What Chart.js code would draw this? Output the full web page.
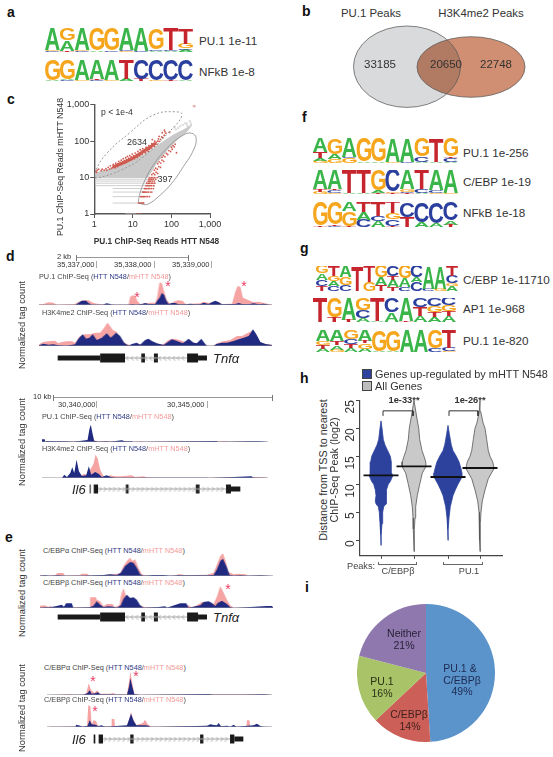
<!DOCTYPE html>
<html><head><meta charset="utf-8">
<script src="https://cdn.jsdelivr.net/npm/chart.js@4"></script>
<style>
html,body{margin:0;padding:0;background:#fff}
#fig{position:relative;width:553px;height:757px;overflow:hidden;background:#fff;font-family:"Liberation Sans",Arial,sans-serif;color:#333;filter:blur(0.3px)}
canvas{position:absolute;display:block}
.t{position:absolute;white-space:nowrap;line-height:1}
.r{position:absolute;background:#555}
</style></head><body><div id="fig"></div>
<script>
// ---------- sequence logos: each position lists letter+height, bottom to top ----------
const logoA1=["C1G1A18","T1A9G10","C1G1A18","A1G19","C1G19","G1C1A18","C1A19","A1C1G17","A1C1T18","A2C1G4T13"];
const logoA2=["A1G19","C1A1G18","G1A19","C1T1A18","G1A19","A2T18","T2C18","G1C19","T1C19","A1C19"];
const logoF1=["G2A2T5A11","G3A4G13","G4C1A15","A1G19","A1G19","G1A19","C1A19","A1C4G15","A1T19","A1C3T1G15"];
const logoF2=["G2T2A16","G1C2T1A16","A1T19","A1T19","T1A2G17","T1G1C18","T1C1G2A16","A1C3T16","G1C2A17","G1A19"];
const logoF3=["T1G19","C1T1G18","T1G12A7","C6A6T8","A5C4T11","T1C5G5T9","T8C12","A4C16","A3C17","T2A3C15"];
const logoG1=["T4C5A5G6","C4A4G4T8","C5G6A9","T20","G7T13","T5A6G9","T3A6T3C8","C3A7G10","C7A4C9","C2A18","G2A18","A4G2C6T8"];
const logoG2=["T20","T4G16","T2A18","A3C7G10","A1T19","A8C12","T1A19","A5T7C8","A4T4G5C7","A5T4G5C6"];
const logoG3=["A3T3G4A10","G2A4T4A10","A4T3C5G8","A3G5T2A10","A1G19","A1G19","A20","A20","C3G17","G1C3T16"];
// ---------- venn ----------
const vennCounts=[33185,20650,22748];
const vennLabels=["PU.1 Peaks","H3K4me2 Peaks"];
// ---------- scatter (panel c) ----------
const cloudOutline=[[1.04,12.5],[1.4,14.5],[3.1,18],[5.7,22],[10.3,30],[18.8,42],[34,63],[62,97],[112,147],[204,202],[338,278],[250,182],[151,120],[92,70],[62,42],[41,25],[28,13],[24,10],[1.04,10]];
const rowValues=[9,8,7,6,5,4,3,2];
const rowStarts=[1.04,1.04,1.04,1.04,3,3,3,3];
const rowEnds=[25,24,23,22,20,19,17,15];
const tipGrey=[[250,300],[300,350],[200,280],[150,230],[120,240],[260,260],[90,170],[170,260],[320,300],[130,210],[230,310]];
const farPoint=[[388,920]];
const upperBand=[[3,19.5],[6,26],[10,34],[15,44],[20,55],[28,68],[38,88]];
const upperRed=[[1.1,15],[1.2,16],[1.15,14],[1.3,17],[1.5,15.5],[1.6,17],[1.8,16],[2,17.5],[2.1,15.8],[2.3,19],[2.5,17],[2.6,21],[2.8,18],[3,19],[3.1,23],[3.3,20],[3.5,18.5],[3.6,25],[3.8,21],[4,20],[4.1,24],[4.3,28],[4.5,22],[4.7,26],[4.9,23],[5,30],[5.2,24],[5.4,27],[5.6,33],[5.8,25],[6,29],[6.3,26],[6.5,35],[6.8,31],[7,27],[7.2,38],[7.5,30],[7.8,34],[8,29],[8.3,40],[8.6,33],[9,37],[9.3,31],[9.6,44],[10,35],[10.5,40],[11,33],[11.5,47],[12,38],[12.5,43],[13,36],[13.5,52],[14,42],[14.5,47],[15,40],[15.5,58],[16,46],[17,52],[17.5,44],[18,62],[19,50],[20,56],[21,48],[22,68],[23,55],[24,62],[25,53],[26,75],[27,60],[28,68],[30,65],[31,85],[32,72],[34,78],[36,72],[37,100],[38,85],[40,92],[42,82],[44,100],[46,115],[48,98],[52,112],[56,130],[60,125],[65,145],[68,180],[72,165],[32,110],[48,135],[58,170],[66,200],[90,180]];
const lowerRed=[[14,2],[15,2],[16,2],[17,2],[18,2],[19,2.02],[16,3],[17,3],[18,3],[19,3],[20,3],[22,3],[24,3],[27,3],[18,4],[19,4],[20,4],[21,4],[23,4],[25,4],[28,4],[31,4],[20,5],[21,5],[23,5],[25,5],[27,5],[30,5],[34,5],[22,6],[24,6],[26,6],[28,6],[31,6],[35,6],[23,7],[25,7],[27,7],[30,7],[33,7],[37,7],[25,8],[27,8],[29,8],[32,8],[36,8],[26,9],[28,9],[31,9],[34,9],[39,9],[27,10],[30,10],[33,10],[37,10],[43,10],[31,12],[34,13],[37,12],[40,14],[44,13],[36,16],[39,18],[43,17],[47,20],[52,19],[44,24],[48,27],[53,25],[57,30],[63,28],[57,36],[62,40],[68,37],[74,46],[80,43],[86,55],[95,52],[105,60],[118,70],[125,82],[110,75],[100,68],[135,48]];
const oneRowRed=[[12,1],[13,1],[14,1],[15,1],[16,1],[17,1]];
const oneRowGrey=[[6.3,1],[8,1],[10,1],[12,1]];
const dashedOutline=[[1.04,10.1],[1.1,16],[2.1,46],[8,164],[34,520],[125,640],[190,520],[82,167],[18.4,36.7],[4.9,16],[1.25,9.7],[1.04,10.1]];
const solidOutline=[[13.9,2.18],[15.3,3.7],[20.7,8.6],[34,22],[75.8,63],[204,147],[339,164],[437,120],[373,57],[204,20],[102,7],[51,3.3],[25,1.88],[17,1.88],[13.9,2.18]];
const scatterTicks=[1,10,100,1000];
// ---------- genome tracks: [bin, height] ----------
const d1PuMut=[[117,2],[130,3],[145,8],[160,7],[170,1],[225,3],[235,10],[250,14],[265,14],[280,6],[300,2],[330,3],[345,1],[385,1],[390,25],[398,29],[405,28],[412,12],[420,3],[430,4],[450,7],[465,7],[470,20],[478,68],[485,65],[492,40],[500,14],[510,4],[525,12],[535,14],[548,12],[556,3],[600,5],[610,10],[625,6],[640,10],[655,10],[665,3],[695,4],[705,40],[712,57],[720,55],[728,22],[745,14],[760,8],[775,10],[790,6],[815,1]];
const d1PuWt=[[117,0],[225,0],[235,6],[245,13],[258,13],[265,6],[275,1],[310,1],[318,5],[328,4],[335,1],[385,1],[395,2],[410,1],[425,3],[435,6],[445,3],[465,3],[472,14],[478,22],[485,36],[492,30],[498,14],[505,3],[515,6],[525,6],[535,2],[560,2],[570,4],[580,2],[600,2],[610,7],[625,3],[635,8],[645,13],[655,8],[665,2],[705,3],[715,6],[725,3],[745,2],[760,5],[775,2],[790,4],[805,1],[815,0]];
const d1KmMut=[[117,5],[130,12],[145,14],[155,15],[165,16],[175,8],[185,12],[200,14],[215,14],[225,10],[240,30],[255,35],[270,35],[285,40],[300,40],[312,55],[322,70],[330,60],[338,48],[350,42],[360,25],[375,8],[390,2],[410,4],[425,6],[440,14],[450,12],[465,5],[490,6],[505,18],[515,22],[530,20],[545,16],[560,10],[570,14],[585,8],[600,12],[612,6],[620,1],[640,1],[650,8],[670,14],[690,18],[710,30],[725,30],[740,38],[755,45],[770,25],[780,10],[795,7],[815,4]];
const d1KmWt=[[117,2],[130,7],[145,4],[160,5],[175,2],[200,1],[225,5],[235,22],[248,35],[258,22],[268,25],[278,35],[290,18],[305,25],[320,38],[332,25],[348,40],[360,30],[372,10],[385,1],[395,6],[410,10],[420,4],[435,18],[445,22],[455,15],[470,8],[490,3],[500,10],[515,20],[530,15],[548,8],[565,22],[580,10],[590,8],[603,22],[612,10],[620,0],[640,0],[648,6],[665,10],[680,10],[700,15],[715,20],[730,25],[745,30],[758,50],[768,35],[780,12],[795,6],[815,3]];
const d2PuMut=[[125,1],[260,2],[270,10],[285,4],[300,2],[320,2],[365,3],[385,1],[425,2],[435,1],[590,2],[595,0],[675,3],[690,1],[745,2]];
const d2PuWt=[[125,8],[133,8],[135,1],[140,3],[160,2],[195,2],[220,1],[262,6],[268,40],[272,52],[276,30],[282,4],[295,1],[320,2],[330,1],[365,5],[375,2],[395,2],[400,0],[650,3],[655,0],[750,2],[780,2],[805,0]];
const d2KmMut=[[190,1],[240,5],[250,12],[262,10],[270,25],[280,42],[286,70],[292,60],[300,25],[310,6],[320,4],[330,8],[340,6],[350,5],[365,5],[395,8],[405,3],[430,5],[440,2],[470,1],[490,1],[500,1],[620,1],[760,3],[800,2]];
const d2KmWt=[[125,0],[185,0],[192,10],[200,3],[210,15],[216,32],[222,15],[229,55],[236,20],[245,6],[258,8],[266,35],[273,10],[285,18],[296,12],[305,3],[320,8],[330,4],[345,1],[360,1],[620,1],[630,0],[755,5],[762,1],[805,0]];
const e1AlphaMut=[[120,2],[135,2],[140,1],[165,2],[172,9],[190,9],[195,1],[240,3],[245,7],[262,7],[268,1],[310,3],[340,5],[360,8],[370,30],[380,45],[390,55],[397,45],[405,50],[415,25],[425,5],[440,1],[530,1],[533,6],[550,4],[555,1],[585,3],[620,4],[640,10],[650,35],[660,60],[668,68],[676,45],[685,12],[700,5],[715,7],[735,5],[745,1],[790,1],[818,0]];
const e1AlphaWt=[[120,1],[135,2],[150,1],[175,2],[190,1],[245,1],[310,3],[330,5],[350,3],[362,10],[375,30],[390,42],[400,40],[410,25],[420,5],[430,1],[460,3],[490,3],[510,1],[530,2],[590,2],[620,2],[640,3],[650,20],[660,45],[668,52],[678,30],[688,3],[700,1],[720,2],[740,1],[780,2],[818,0]];
const e1BetaMut=[[120,7],[135,8],[145,3],[150,7],[160,1],[240,2],[268,2],[270,32],[288,32],[290,25],[300,20],[310,5],[320,12],[338,12],[342,3],[358,8],[362,35],[370,60],[378,35],[390,28],[405,20],[420,8],[435,2],[470,2],[495,1],[520,1],[545,5],[560,10],[575,2],[590,8],[605,18],[620,18],[640,12],[650,35],[660,65],[668,50],[680,25],[690,8],[700,1],[800,1],[818,2]];
const e1BetaWt=[[120,1],[135,2],[150,2],[170,6],[185,10],[192,4],[198,14],[215,14],[220,1],[268,2],[280,7],[290,20],[300,10],[310,3],[325,5],[340,4],[350,1],[362,8],[370,28],[380,40],[390,30],[400,32],[410,25],[420,8],[430,1],[475,3],[495,5],[500,1],[540,14],[558,14],[565,1],[600,8],[610,18],[625,20],[635,15],[645,6],[652,15],[665,22],[680,12],[690,2],[700,0],[800,6],[815,6],[818,2]];
const e2AlphaMut=[[150,0],[200,2],[212,3],[220,1],[245,1],[258,5],[265,35],[272,15],[282,6],[290,14],[300,4],[330,4],[340,6],[345,1],[380,2],[387,45],[390,70],[395,40],[402,4],[420,1],[625,2],[790,2],[815,0]];
const e2AlphaWt=[[140,0],[250,1],[262,6],[268,14],[274,4],[285,5],[292,8],[300,2],[380,1],[386,25],[390,50],[396,25],[402,2],[420,0],[625,3],[640,1],[730,1],[790,2],[815,0]];
const e2BetaMut=[[150,2],[165,1],[260,2],[264,65],[270,62],[274,10],[280,20],[287,18],[292,5],[300,3],[332,1],[334,24],[342,24],[344,1],[380,3],[388,30],[392,45],[398,25],[408,6],[428,12],[434,22],[442,8],[450,2],[470,1],[570,2],[590,1],[738,1],[740,20],[747,20],[750,1],[770,8],[780,2]];
const e2BetaWt=[[140,0],[225,1],[228,7],[240,4],[246,1],[262,4],[268,20],[274,8],[285,7],[295,2],[303,5],[315,1],[380,5],[386,22],[392,40],[400,18],[408,5],[435,5],[445,4],[450,0],[620,4],[630,8],[640,6],[650,5],[655,12],[662,2],[680,4],[690,1],[700,7],[708,1],[760,5],[770,10],[780,3],[790,1],[815,0]];
// ---------- gene models: [start, end, thickness class] ----------
const tnfExons=[[172,300,0],[300,375,1],[424,435,1],[462,474,1],[562,595,1],[595,622,0]];
const tnfIntron=[375,562];
const il6ExonsD=[[270,273,1],[282,295,1],[378,386,1],[587,598,1],[677,692,1],[692,720,0]];
const il6IntronD=[295,677];
const il6ExonsE=[[280,285,1],[295,308,1],[390,400,1],[600,610,1],[690,703,1],[703,730,0]];
const il6IntronE=[308,690];
// ---------- violins: "level half-width" profile, value scale on log2 distance ----------
const violinLevels1=[21.3,20,18,17,16,15,14,12,11.5,10.5,10,9,8,7,6.5,6,5,3,1,-0.9];
const violinWidths1=[0,1,2.3,4,6.7,9.3,10.3,10.7,11.7,9.3,7.3,5.7,5,5.7,5,2.7,1.7,1,0.3,0];
const violinLevels2=[25,22,20,18,16,15,14,13.2,12,10,8,6,4,2,-2];
const violinWidths2=[0,2.7,4.7,5.7,8,10,11.7,12,8.3,5.7,3.3,1.7,1,0.7,0];
const violinLevels3=[20.5,19,17,16,15,14,13,12,11.3,10,9,8,6,4,2,0];
const violinWidths3=[0,1.3,3.3,5,8.3,11,12.7,14,14,10,7.3,5,2.3,1,0.3,0];
const violinLevels4=[25,23,21,20,18,16,15,14,13,12.8,11,9,7,5,3,0,-2];
const violinWidths4=[0,0.7,3,5,6.7,8.3,10,12.7,14,14,8.3,5,2.3,1,0.7,0.3,0];
const violinCenters=[21,54,88,120];
const violinColors=["#2c429c","#c9c9c9","#2c429c","#c9c9c9"];
const medians=[11.6,13.2,11.3,12.9];
const hTicks=[0,5,10,15,20,25];
const bracketLabels=["1e-33**","1e-26**"];
// ---------- pie ----------
const pieLabels=["PU.1 & C/EBPβ","C/EBPβ","PU.1","Neither"];
const pieValues=[49,14,16,21];
const pieColors=["#5b93cb","#cc6059","#a9c468","#8f78ad"];

// ---------- helpers ----------
const FONT='"Liberation Sans",Arial,sans-serif';
const fig=document.getElementById('fig');
const NAVY='#1f2a80',PINK='#f5a3a3',LETTER={A:'#3ab54a',C:'#2b3f9e',G:'#f6a61c',T:'#c6252d'};
function cv(x,y,w,h){const c=document.createElement('canvas');c.width=w;c.height=h;c.style.left=x+'px';c.style.top=y+'px';c.style.width=w+'px';c.style.height=h+'px';fig.appendChild(c);return c;}
function base(extra){return Object.assign({responsive:false,animation:false,events:[],devicePixelRatio:1,layout:{autoPadding:false,padding:0},plugins:{legend:{display:false},tooltip:{enabled:false}}},extra);}
function T(html,x,y,o){o=o||{};const s=document.createElement('span');s.className='t';s.innerHTML=html;
 s.style.left=x+'px';s.style.top=y+'px';s.style.fontSize=(o.size||9)+'px';if(o.bold)s.style.fontWeight='bold';if(o.italic)s.style.fontStyle='italic';if(o.color)s.style.color=o.color;
 const ax={l:'0',c:'-50%',r:'-100%'}[o.a||'l'];s.style.transform='translate('+ax+',-50%)'+(o.rot?' rotate(-90deg)':'');fig.appendChild(s);return s;}
function R(x,y,w,h,c){const d=document.createElement('div');d.className='r';d.style.cssText+='left:'+x+'px;top:'+y+'px;width:'+w+'px;height:'+h+'px;background:'+(c||'#666');fig.appendChild(d);return d;}
const pts=a=>a.map(p=>({x:p[0],y:p[1]}));

// sequence logo: stacked transparent bars, letters stretched into each bar rectangle
const logoPlugin={id:'logo',afterDatasetsDraw(ch){const ctx=ch.ctx;ch.data.datasets.forEach((ds,k)=>{ch.getDatasetMeta(k).data.forEach((b,i)=>{const L=ds.letters[i];if(!L)return;
  const top=Math.min(b.y,b.base),h=Math.abs(b.base-b.y),w=b.width,left=b.x-w/2;if(h<=0)return;
  ctx.save();ctx.font='bold 100px '+FONT;const m=ctx.measureText(L);const gw=m.actualBoundingBoxLeft+m.actualBoundingBoxRight,gh=m.actualBoundingBoxAscent+m.actualBoundingBoxDescent;
  ctx.translate(left,top);ctx.scale(w/gw,h/gh);ctx.fillStyle=LETTER[L];ctx.textBaseline='alphabetic';ctx.fillText(L,m.actualBoundingBoxLeft,m.actualBoundingBoxAscent);ctx.restore();});});}};
function logo(arr,x0,y0,x1,y1){const parsed=arr.map(s=>[...s.matchAll(/([ACGT])(\d+)/g)].map(m=>[m[1],+m[2]]));const n=Math.max(...parsed.map(p=>p.length));const ds=[];
 for(let k=0;k<n;k++)ds.push({data:parsed.map(p=>p[k]?p[k][1]:0),letters:parsed.map(p=>p[k]?p[k][0]:''),backgroundColor:'rgba(0,0,0,0)',borderWidth:0,barPercentage:1,categoryPercentage:1});
 new Chart(cv(x0,y0,x1-x0,y1-y0),{type:'bar',data:{labels:arr.map((_,i)=>i+1),datasets:ds},plugins:[logoPlugin],options:base({scales:{x:{display:false,stacked:true},y:{display:false,stacked:true,min:0,max:20}}})});}

function track(mut,wt,xmin,xmax,baseline){const h=30;const grey=[[xmin,0],[xmax,0]];
 new Chart(cv(xmin/3,baseline-h,(xmax-xmin)/3,h+1),{type:'scatter',data:{datasets:[
  {data:pts(grey),showLine:true,borderColor:'#8f8f9a',borderWidth:1,pointRadius:0,order:0},
  {data:pts(wt),showLine:true,fill:'origin',backgroundColor:NAVY,borderWidth:0,pointRadius:0,order:1},
  {data:pts(mut),showLine:true,fill:'origin',backgroundColor:PINK,borderWidth:0,pointRadius:0,order:2}]},
  options:base({layout:{autoPadding:false,padding:{bottom:1}},scales:{x:{display:false,min:xmin,max:xmax},y:{display:false,min:0,max:90}}})});}

function chevron(dir){const c=document.createElement('canvas');c.width=4;c.height=5;const g=c.getContext('2d');g.strokeStyle='#777';g.lineWidth=0.8;g.beginPath();if(dir<0){g.moveTo(3,0.5);g.lineTo(1,2.5);g.lineTo(3,4.5);}else{g.moveTo(1,0.5);g.lineTo(3,2.5);g.lineTo(1,4.5);}g.stroke();return c;}
function gene(exons,intron,dir,xmin,xmax,yc){const h=14;const ds=[];const marks=[];for(let x=intron[0]+7;x<intron[1]-3;x+=14)marks.push([x,0]);
 ds.push({data:pts([[intron[0],0],[intron[1],0]]),showLine:true,borderColor:'#aaa',borderWidth:1,pointRadius:0});
 ds.push({data:pts(marks),pointStyle:chevron(dir),pointRadius:2,showLine:false});
 exons.forEach(e=>ds.push({data:pts([[e[0],0],[e[1],0]]),showLine:true,borderColor:'#1a1a1a',borderWidth:e[2]?9:5,borderCapStyle:'butt',pointRadius:0}));
 new Chart(cv(xmin/3,yc-h/2,(xmax-xmin)/3,h),{type:'scatter',data:{datasets:ds},options:base({scales:{x:{display:false,min:xmin,max:xmax},y:{display:false,min:-1,max:1}}})});}

function trackLabel(pre,x,y){return T(pre+' (<span style="color:#303a85">HTT N548</span>/<span style="color:#f29a9a">mHTT N548</span>)',x,y,{size:7.3,color:'#444'});}
function scaleBar(x0,x1,y){R(x0,y,x1-x0,1,'#999');R(x0,y-2.5,1,6,'#777');R(x1-1,y-2.5,1,6,'#777');}
function star(x,y){T('*',x,y+2,{size:14,color:'#ea3a63',a:'c'});}
function norm(y){T('Normalized tag count',23,y,{size:9.3,a:'c',rot:true,color:'#333'});}

// ---------- panel letters ----------
[['a',7,12],['b',302,11],['c',7,99],['d',6,256],['e',5,537],['f',302,117],['g',300,248],['h',300,378],['i',305,587]].forEach(p=>T(p[0],p[1],p[2],{size:14,bold:true,color:'#111'}));

// ---------- a ----------
const LG=11.7;
logo(logoA1,45,28,193,52);T('PU.1 1e-11',199,41,{size:LG});
logo(logoA2,45,59,193,81);T('NFkB 1e-8',199,72,{size:LG});
// ---------- f ----------
logo(logoF1,313,138,458,163);T('PU.1 1e-256',463,153,{size:LG});
logo(logoF2,313,170,458,194);T('C/EBP 1e-19',463,182,{size:LG});
logo(logoF3,313,202,458,227);T('NFkB 1e-18',463,213,{size:LG});
// ---------- g ----------
logo(logoG1,316,266,458,291);T('C/EBP 1e-11710',463,280,{size:LG});
logo(logoG2,313,298,456,322);T('AP1 1e-968',463,309,{size:LG});
logo(logoG3,316,330,456,352);T('PU.1 1e-820',463,341,{size:LG});

// ---------- b venn: ellipses placed through the chart's scales ----------
const vennEllipses=[{cx:407,cy:66.7,rx:53.5,ry:40.7,fill:'#d9dadb'},{cx:471,cy:67,rx:54,ry:30.3,fill:'#d08f72'}];
const vennPlugin={id:'venn',afterDatasetsDraw(ch){const c=ch.ctx,sx=ch.scales.x,sy=ch.scales.y;
 vennEllipses.forEach(e=>{const x=sx.getPixelForValue(e.cx),y=sy.getPixelForValue(e.cy),rx=sx.getPixelForValue(e.cx+e.rx)-x,ry=sy.getPixelForValue(e.cy+e.ry)-y;c.save();c.globalCompositeOperation='multiply';c.fillStyle=e.fill;c.beginPath();c.ellipse(x,y,rx,ry,0,0,7);c.fill();c.restore();});
 vennEllipses.forEach(e=>{const x=sx.getPixelForValue(e.cx),y=sy.getPixelForValue(e.cy),rx=sx.getPixelForValue(e.cx+e.rx)-x,ry=sy.getPixelForValue(e.cy+e.ry)-y;c.strokeStyle='rgba(90,90,90,.75)';c.lineWidth=1;c.beginPath();c.ellipse(x,y,rx,ry,0,0,7);c.stroke();});}};
new Chart(cv(340,20,200,100),{type:'scatter',data:{datasets:[{data:[]}]},plugins:[vennPlugin],options:base({scales:{x:{display:false,min:340,max:540},y:{display:false,reverse:true,min:20,max:120}}})});
T(vennLabels[0],371,14,{size:11.4,a:'c'});T(vennLabels[1],481,14,{size:11.4,a:'c'});
T(String(vennCounts[0]),380,65,{size:11.5,a:'c'});T(String(vennCounts[1]),446,65,{size:11.5,a:'c'});T(String(vennCounts[2]),496,65,{size:11.5,a:'c'});

// ---------- c scatter ----------
(function(){const L=60,Tp=95,W=165,H=135,ax0=94.3,ay0=104.7,ax1=210,ay1=214;
 const ds=[];
 ds.push({data:pts(dashedOutline),showLine:true,tension:0.45,borderColor:'#999',borderDash:[2,2],borderWidth:1,pointRadius:0,order:1});
 ds.push({data:pts(solidOutline),showLine:true,tension:0.45,borderColor:'#888',borderWidth:0.8,pointRadius:0,order:1});
 ds.push({data:pts(upperBand),showLine:true,borderColor:'#cf5c52',borderWidth:3.2,pointRadius:0,order:2});
 ds.push({data:pts(upperRed),pointRadius:0.9,backgroundColor:'#cf5c52',borderWidth:0,order:2});
 ds.push({data:pts(lowerRed),pointRadius:0.9,backgroundColor:'#cf5c52',borderWidth:0,order:2});
 ds.push({data:pts(oneRowRed),showLine:true,borderColor:'#cf5c52',borderWidth:1,pointRadius:0,order:2});
 ds.push({data:pts(oneRowGrey),showLine:true,borderColor:'#cdb9b9',borderWidth:1,pointRadius:0,order:3});
 ds.push({data:pts(tipGrey),pointRadius:1.2,backgroundColor:'#dcdcdc',borderWidth:0,order:4});
 ds.push({data:pts(farPoint),pointRadius:1.6,backgroundColor:'#e3b6b0',borderWidth:0,order:4});
 ds.push({data:pts(cloudOutline),showLine:true,fill:'shape',backgroundColor:'#c9c9c9',borderColor:'#c9c9c9',borderWidth:1,pointRadius:0,order:5});
 rowValues.forEach((v,i)=>ds.push({data:pts([[rowStarts[i],v],[rowEnds[i],v]]),showLine:true,borderColor:'#cfcfcf',borderWidth:1,pointRadius:0,order:6}));
 const axis=(w)=>({type:'logarithmic',min:1,max:1000,afterBuildTicks:s=>{s.ticks=scatterTicks.map(v=>({value:v}));},
   border:{color:'#555',width:1.4},grid:{display:true,drawOnChartArea:false,drawTicks:true,tickLength:4,color:'#555'},
   ticks:{autoSkip:false,maxRotation:0,minRotation:0,padding:1,color:'#333',font:{family:FONT,size:9},callback:v=>v>=1000?'1,000':String(v)}});
 const xA=axis(),yA=axis();xA.afterFit=s=>{s.height=H-(ay1-Tp);};yA.afterFit=s=>{s.width=ax0-L;};
 new Chart(cv(L,Tp,W,H),{type:'scatter',data:{datasets:ds},options:base({layout:{autoPadding:false,padding:{top:ay0-Tp,right:L+W-ax1}},scales:{x:xA,y:yA}})});
 T('p &lt; 1e-4',101,112,{size:8.6});T('2634',137,142,{size:9,a:'c'});T('397',165,179,{size:9,a:'c'});
 T('PU.1 ChIP-Seq Reads mHTT N548',60,167,{size:8.8,a:'c',rot:true});
 T('PU.1 ChIP-Seq Reads HTT N548',156.5,240.5,{size:8.3,bold:true,a:'c'});
})();

// ---------- d ----------
T('2 kb',57,257,{size:7.5});scaleBar(76,189,257);
T('35,337,000',57,265,{size:7.5});R(96,261,1,7,'#aaa');T('35,338,000',114,265,{size:7.5});R(154,261,1,7,'#aaa');T('35,339,000',172,265,{size:7.5});R(211,261,1,7,'#aaa');
trackLabel('PU.1 ChIP-Seq',39,277);track(d1PuMut,d1PuWt,117,815,305);
trackLabel('H3K4me2 ChIP-Seq',42,313);track(d1KmMut,d1KmWt,117,815,346);
gene(tnfExons,tnfIntron,-1,170,625,358);T('Tnf&alpha;',213,358,{size:13,italic:true,color:'#222'});
star(137,295);star(168,284);star(244,284);norm(325);
T('10 kb',33,397,{size:7.5});scaleBar(53,273,397);
T('30,340,000',58,405,{size:7.5});R(96,401,1,7,'#aaa');T('30,345,000',167,405,{size:7.5});R(207,401,1,7,'#aaa');
trackLabel('PU.1 ChIP-Seq',42,417);track(d2PuMut,d2PuWt,125,805,442);
trackLabel('H3K4me2 ChIP-Seq',42,449);track(d2KmMut,d2KmWt,125,805,478);
gene(il6ExonsD,il6IntronD,1,268,722,489);T('Il6',72,489,{size:13,italic:true,color:'#222'});norm(442);

// ---------- e ----------
trackLabel('C/EBP&alpha; ChIP-Seq',43,551);track(e1AlphaMut,e1AlphaWt,120,818,576);
trackLabel('C/EBP&beta; ChIP-Seq',43,583);track(e1BetaMut,e1BetaWt,120,818,608);
gene(tnfExons,tnfIntron,-1,170,625,617);T('Tnf&alpha;',213,617,{size:13,italic:true,color:'#222'});star(228,587);norm(593);
trackLabel('C/EBP&alpha; ChIP-Seq',44,668);track(e2AlphaMut,e2AlphaWt,140,815,695);
trackLabel('C/EBP&beta; ChIP-Seq',44,700);track(e2BetaMut,e2BetaWt,140,815,727);
gene(il6ExonsE,il6IntronE,1,278,732,739);T('Il6',72,739,{size:13,italic:true,color:'#222'});
star(93,679);star(136,674);star(95,709);norm(708);

// ---------- h violins ----------
(function(){const L=335,Tp=388,W=175,H=180,ax0=360,ay0=396,ax1=502,ay1=557;
 const lev=[violinLevels1,violinLevels2,violinLevels3,violinLevels4],wid=[violinWidths1,violinWidths2,violinWidths3,violinWidths4];
 const ds=[];
 medians.forEach((m,i)=>ds.push({data:pts([[violinCenters[i]-17.5,m],[violinCenters[i]+17.5,m]]),showLine:true,borderColor:'#111',borderWidth:1.8,pointRadius:0,order:0}));
 ds.push({data:pts([[23,22.2],[23,23.1],[53,23.1],[53,22.2]]),showLine:true,borderColor:'#333',borderWidth:1,pointRadius:0,order:0});
 ds.push({data:pts([[89,22.2],[89,23.1],[118,23.1],[118,22.2]]),showLine:true,borderColor:'#333',borderWidth:1,pointRadius:0,order:0});
 lev.forEach((lv,i)=>{const c=violinCenters[i],o=[];lv.forEach((y,k)=>o.push([c-wid[i][k],y]));for(let k=lv.length-1;k>=0;k--)o.push([c+wid[i][k],lv[k]]);
   ds.push({data:pts(o),showLine:true,fill:'shape',backgroundColor:violinColors[i],borderColor:i%2?'#555':'#2c429c',borderWidth:0.8,pointRadius:0,order:1});});
 new Chart(cv(L,Tp,W,H),{type:'scatter',data:{datasets:ds},options:base({layout:{autoPadding:false,padding:{top:ay0-Tp,right:L+W-ax1}},scales:{
  x:{min:0,max:142,afterBuildTicks:s=>{s.ticks=violinCenters.map(v=>({value:v}));},afterFit:s=>{s.height=H-(ay1-Tp);},border:{color:'#444',width:1.2},grid:{display:true,drawOnChartArea:false,drawTicks:true,tickLength:3,color:'#444'},ticks:{display:false}},
  y:{min:-2.76,max:25,afterBuildTicks:s=>{s.ticks=hTicks.map(v=>({value:v}));},afterFit:s=>{s.width=ax0-L;},border:{color:'#444',width:1.2},grid:{display:true,drawOnChartArea:false,drawTicks:true,tickLength:4,color:'#444'},ticks:{autoSkip:false,minRotation:90,maxRotation:90,padding:5,color:'#333',font:{family:FONT,size:12}}}}})});
 T(bracketLabels[0],404,401,{size:9.3,bold:true,a:'c'});T(bracketLabels[1],470,401,{size:9.3,bold:true,a:'c'});
 T('Distance from TSS to nearest',323,470,{size:10.8,a:'c',rot:true});T('ChIP-Seq Peak (log2)',334,470,{size:10.8,a:'c',rot:true});
 T('Peaks:',347,567,{size:9.2,color:'#444'});
 R(378,564,39,1,'#666');R(378,562,1,3,'#666');R(416,562,1,3,'#666');R(443,564,40,1,'#666');R(443,562,1,3,'#666');R(482,562,1,3,'#666');
 T('C/EBP&beta;',398,572,{size:9.2,a:'c',color:'#444'});T('PU.1',469,572,{size:9.2,a:'c',color:'#444'});
 R(363,370,8,8,'#2c429c').style.outline='1px solid #444';T('Genes up-regulated by mHTT N548',375,374,{size:10.9});
 R(363,382,8,8,'#bdbdbd').style.outline='1px solid #444';T('All Genes',375,386,{size:10.9});
})();

// ---------- i pie ----------
new Chart(cv(357,604,138,138),{type:'pie',data:{labels:pieLabels,datasets:[{data:pieValues,backgroundColor:pieColors,borderWidth:0}]},options:base({})});
const navyT='#1d2b52',PS=10.5;
T('PU.1 &amp;',460,668,{size:PS,a:'c',color:navyT});T('C/EBP&beta;',462,679.5,{size:PS,a:'c',color:navyT});T(pieValues[0]+'%',462,691,{size:PS,a:'c',color:navyT});
T('C/EBP&beta;',409,714,{size:PS,a:'c',color:'#40201c'});T(pieValues[1]+'%',410,726,{size:PS,a:'c',color:'#40201c'});
T('PU.1',382,681,{size:PS,a:'c',color:'#2a3016'});T(pieValues[2]+'%',382,693,{size:PS,a:'c',color:'#2a3016'});
T('Neither',404,633,{size:PS,a:'c',color:'#261f35'});T(pieValues[3]+'%',404,645,{size:PS,a:'c',color:'#261f35'});
</script></body></html>
